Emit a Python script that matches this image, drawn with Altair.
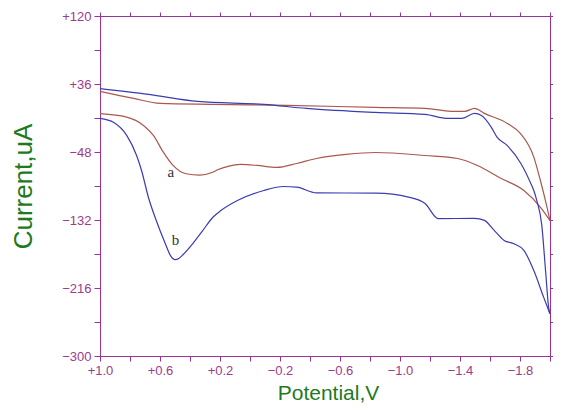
import altair as alt
import pandas as pd

# ---- data (Potential in V, Current in uA) ----
# curve b (blue): forward scan (+1.0 -> -2.0) and reverse scan (-2.0 -> +1.0)
b_fwd_E = [1.0, 0.677, 0.348, -0.094, -0.377, -0.838, -1.167, -1.319, -1.411, -1.497,
           -1.543, -1.607, -1.648, -1.714, -1.806, -1.872, -1.892, -1.912, -1.945, -1.971,
           -1.991, -2.0]
b_fwd_I = [30.3, 23.2, 14.5, 10.8, 5.9, 0.9, -1.6, -6.5, -6.5, -0.3,
           -2.8, -16.9, -30.0, -39.9, -62.2, -86.9, -95.6, -108.0, -138.0, -196.0,
           -240.0, -248.0]
b_rev_E = [-2.0, -1.958, -1.892, -1.826, -1.760, -1.694, -1.628, -1.563, -1.497, -1.255,
           -1.167, -1.057, -0.838, -0.443, -0.311, -0.223, -0.092, 0.084, 0.194, 0.249,
           0.315, 0.381, 0.447, 0.475, 0.499, 0.530, 0.565, 0.625, 0.677, 0.723, 0.756, 0.822,
           0.908, 1.0]
b_rev_I = [-248.0, -227.6, -194.4, -169.6, -161.4, -157.2, -144.8, -132.5, -130.0, -130.3,
           -111.6, -103.8, -98.9, -98.4, -91.4, -90.6, -95.6, -107.9, -120.3, -128.9,
           -145.0, -161.1, -175.0, -179.5, -181.0, -176.0, -161.1, -132.7, -104.2, -70.8, -52.3, -27.5,
           -11.5, -6.5]

# curve a (red): forward and reverse scans
a_fwd_E = [1.0, 0.776, 0.598, 0.249, -0.245, -0.838, -1.167, -1.365, -1.431, -1.497,
           -1.563, -1.716, -1.804, -1.892, -1.936, -1.980, -2.0]
a_fwd_I = [26.9, 18.2, 12.0, 10.8, 9.6, 7.1, 5.9, 2.1, 2.1, 5.9,
           -0.3, -12.7, -25.4, -54.3, -83.2, -116.2, -132.7]
a_rev_E = [-2.0, -1.938, -1.826, -1.675, -1.516, -1.385, -1.167, -0.838, -0.640, -0.443,
           -0.311, -0.179, -0.047, 0.065, 0.140, 0.216, 0.249, 0.335, 0.425, 0.513,
           0.578, 0.644, 0.710, 0.822, 1.0]
a_rev_I = [-132.7, -116.6, -95.6, -80.7, -64.6, -56.0, -52.3, -48.6, -51.0, -56.0,
           -62.2, -67.1, -64.6, -63.4, -65.5, -70.0, -73.0, -76.5, -74.9, -64.6,
           -48.2, -27.5, -15.2, -4.9, -0.7]

# curve labels
label_text = ["a", "b"]
label_E = [0.528, 0.497]
label_I = [-72.9, -156.5]

# axis ticks
x_ticks = [1.0, 0.8, 0.6, 0.4, 0.2, 0.0, -0.2, -0.4, -0.6, -0.8, -1.0, -1.2, -1.4, -1.6, -1.8, -2.0]
y_ticks = [-300, -258, -216, -174, -132, -90, -48, -6, 36, 78, 120]

# ---- build table ----
rows = []
for curve, seg, xs, ys in [("a", "a_fwd", a_fwd_E, a_fwd_I), ("a", "a_rev", a_rev_E, a_rev_I),
                           ("b", "b_fwd", b_fwd_E, b_fwd_I), ("b", "b_rev", b_rev_E, b_rev_I)]:
    for i, (e, c) in enumerate(zip(xs, ys)):
        rows.append({"curve": curve, "seg": seg, "i": i, "E": e, "I": c})
df = pd.DataFrame(rows)
lab = pd.DataFrame({"t": label_text, "E": label_E, "I": label_I})

AXIS_COL = "#993399"
LABEL_COL = "#9c3b8c"
TITLE_COL = "#1e7a1e"

xscale = alt.Scale(domain=[1.0, -2.0], nice=False, zero=False)
yscale = alt.Scale(domain=[-300, 120], nice=False, zero=False)

x_label_expr = ("abs(round((1 - datum.value) / 0.2)) % 2 == 0 ? "
                "(datum.value > 0 ? '+' + format(datum.value, '.1f') : format(datum.value, '.1f')) : ''")
y_label_expr = ("round((datum.value + 300) / 42) % 2 == 0 ? "
                "(datum.value > 0 ? '+' + format(datum.value, 'd') : format(datum.value, 'd')) : ''")

lines = alt.Chart(df).mark_line(strokeWidth=1.2, interpolate="monotone").encode(
    x=alt.X("E:Q", scale=xscale,
            axis=alt.Axis(values=x_ticks, title="Potential,V", labelExpr=x_label_expr,
                          orient="bottom", tickSize=5, labelPadding=3, labelFlush=False,
                          labelOverlap=False,
                          titleX=228, titleY=43, titleAlign="center", titleBaseline="alphabetic",
                          titleFontSize=21)),
    y=alt.Y("I:Q", scale=yscale,
            axis=alt.Axis(values=y_ticks, title="Current,uA", labelExpr=y_label_expr,
                          orient="left", tickSize=6, labelPadding=3, labelFlush=False,
                          labelOverlap=False,
                          titleX=-77, titleY=170, titleAngle=270, titleAlign="center",
                          titleBaseline="middle", titleFontSize=26)),
    color=alt.Color("curve:N", scale=alt.Scale(domain=["a", "b"], range=["#a8584f", "#3c3cb0"]),
                    legend=None),
    detail="seg:N",
    order="i:Q",
)

labels = alt.Chart(lab).mark_text(font="Liberation Serif", fontSize=15, color="#333333").encode(
    x=alt.X("E:Q", scale=xscale,
            axis=alt.Axis(values=x_ticks, orient="top", labels=False, title=None,
                          tickSize=4, domain=False)),
    y=alt.Y("I:Q", scale=yscale,
            axis=alt.Axis(values=y_ticks, orient="right", labels=False, title=None,
                          tickSize=4, domain=False)),
    text="t:N",
)

chart = alt.layer(lines, labels).resolve_axis(x="independent", y="independent").properties(
    width=450, height=340,
    padding={"left": 92, "top": 8, "right": 3, "bottom": 48},
    autosize=alt.AutoSizeParams(type="none"),
).configure_view(stroke=AXIS_COL, strokeWidth=1).configure_axis(
    grid=False,
    domainColor=AXIS_COL, tickColor=AXIS_COL, domainWidth=1, tickWidth=1,
    labelColor=LABEL_COL, labelFont="Liberation Sans", labelFontSize=13,
    titleColor=TITLE_COL, titleFont="Liberation Sans", titleFontWeight="normal",
)

chart.save("out.html", embed_options={"renderer": "svg", "actions": False})
